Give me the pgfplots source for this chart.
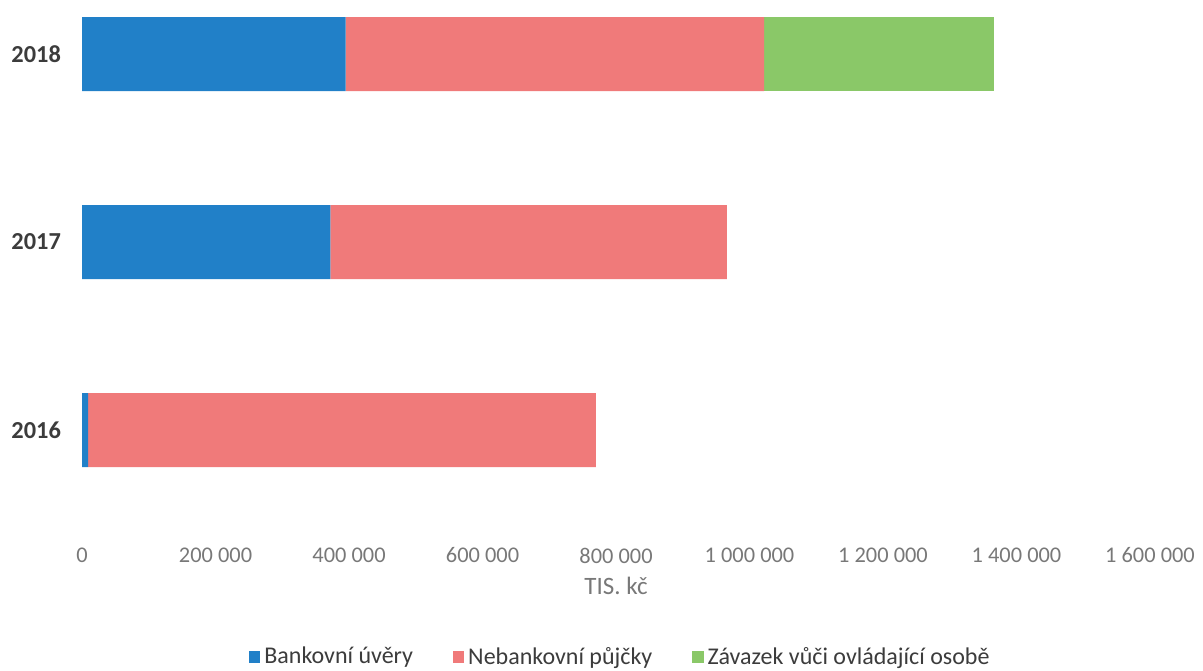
\documentclass[border=0pt]{standalone}
\usepackage{pgfplots}
\pgfplotsset{compat=1.18}
\usepackage{fontspec}
\setmainfont{Carlito}
\definecolor{cblue}{RGB}{33,128,200}
\definecolor{cpink}{RGB}{240,122,122}
\definecolor{cgreen}{RGB}{138,200,104}
\definecolor{ctick}{RGB}{120,120,120}
\definecolor{cyear}{RGB}{60,60,60}
\begin{document}
\begin{tikzpicture}
\useasboundingbox (0,0) rectangle (601.5pt,335pt);
\begin{axis}[
  at={(41pt,63.6pt)}, anchor=south west,
  scale only axis, width=534pt, height=263.2pt,
  xbar stacked, bar width=37pt,
  xmin=0, xmax=1600000, ymin=-0.6, ymax=2.2,
  scaled x ticks=false,
  axis line style={draw=none},
  major tick length=0pt,
  xtick={0,200000,400000,600000,800000,1000000,1200000,1400000,1600000},
  xticklabels={0,200 000,400 000,600 000,800 000,1 000 000,1 200 000,1 400 000,1 600 000},
  ytick={0,1,2}, yticklabels={2016,2017,2018},
  xticklabel style={font=\fontsize{11.2}{13}\selectfont, text=ctick, yshift=1pt},
  yticklabel style={font=\fontsize{12.2}{14}\selectfont\bfseries, text=cyear, xshift=-7pt},
  xlabel={TIS. kč},
  xlabel style={font=\fontsize{12.5}{14}\selectfont, text=ctick, yshift=0pt},
  legend style={at={(0.505,-0.217)}, anchor=center, draw=none, legend columns=3,
    font=\fontsize{12}{14}\selectfont, text=cyear,
    /tikz/every even column/.append style={column sep=18pt}},
  legend image code/.code={\fill[#1] (0pt,-2.8pt) rectangle (5.6pt,2.8pt);},
]
\addplot[fill=cblue, draw=none] coordinates {(9000,0) (372000,1) (395000,2)};
\addplot[fill=cpink, draw=none] coordinates {(761000,0) (594000,1) (627000,2)};
\addplot[fill=cgreen, draw=none] coordinates {(0,0) (0,1) (344000,2)};
\legend{Bankovní úvěry, Nebankovní půjčky, Závazek vůči ovládající osobě}
\end{axis}
\end{tikzpicture}
\end{document}
